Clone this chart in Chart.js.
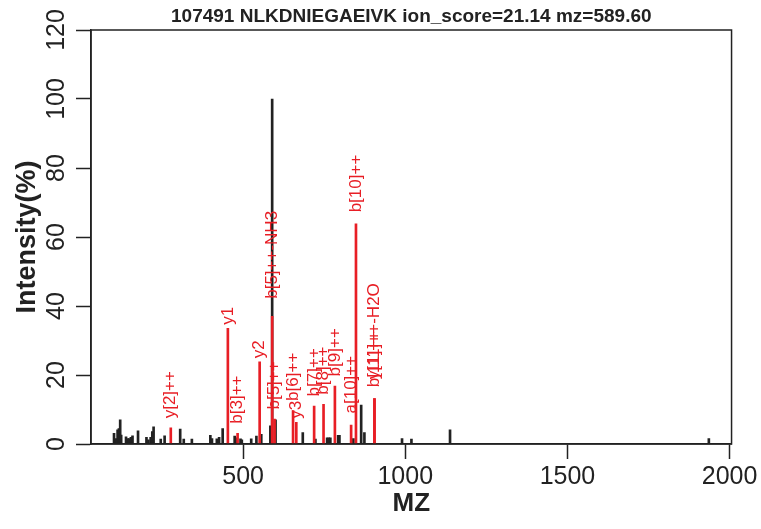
<!DOCTYPE html>
<html>
<head>
<meta charset="utf-8">
<script src="https://cdn.jsdelivr.net/npm/chart.js@4.4.1/dist/chart.umd.min.js"></script>
<style>
  html, body { margin: 0; padding: 0; background: #fff; }
  canvas { display: block; }
</style>
</head>
<body>
<canvas id="chart" width="761" height="529"></canvas>
<script>
"use strict";
// spectrum peaks (m/z, relative intensity %)
const peakMz = [102, 109, 113, 117, 121, 124, 139, 144, 149, 154, 159, 176, 202, 208, 215, 220, 224,
    246, 258, 306, 317, 342, 399, 404, 419, 426, 437, 474, 478, 492, 496, 525, 541, 556, 584,
    589.6, 600, 684, 723, 759, 764, 769, 793, 797, 840, 864, 874, 990, 1019, 1138, 1936];
const peakIntensity = [3.1, 1.6, 4.1, 4.5, 7.0, 2.6, 2.1, 1.6, 1.6, 1.9, 2.4, 3.8, 1.9, 1.2, 1.9, 3.6, 5.0,
    1.4, 2.4, 4.3, 1.4, 1.4, 2.5, 1.6, 1.5, 1.9, 4.5, 2.3, 1.8, 1.5, 1.2, 1.5, 2.3, 2.8, 5.3,
    100, 7.0, 3.3, 1.4, 1.8, 1.8, 1.8, 2.5, 2.5, 1.6, 11.3, 3.3, 1.6, 1.4, 4.1, 1.6];

// matched fragment ions
const ionMz = [277, 453, 483, 551, 589.6, 597, 654, 664, 719, 748, 783, 833, 848, 905, 905];
const ionIntensity = [4.7, 33.5, 3.1, 23.8, 37.0, 7.2, 9.7, 6.3, 11.0, 11.5, 16.8, 5.5, 63.8, 13.2, 13.2];
const ionLabels = ['y[2]++', 'y1', 'b[3]++', 'y2', 'b[5]++-NH3', 'b[5]++', 'b[6]++', 'y3',
    'b[7]++', 'b[8]++', 'b[9]++', 'a[10]++', 'b[10]++', 'b[11]++', 'y[11]++-H2O'];

const xTicks = [500, 1000, 1500, 2000];
const yTicks = [0, 20, 40, 60, 80, 100, 120];

const titleText = '107491 NLKDNIEGAEIVK ion_score=21.14 mz=589.60';
const ink = '#222';
const ionColor = 'rgb(232, 30, 37)';
const fontFamily = '"Liberation Sans", Arial, Helvetica, sans-serif';

Chart.defaults.font.family = fontFamily;
Chart.defaults.color = ink;

// full frame round the plot, like box() in R
const plotBox = {
    id: 'plotBox',
    afterDraw(chart) {
        let ctx = chart.ctx;
        let a = chart.chartArea;
        ctx.save();
        ctx.strokeStyle = ink;
        ctx.lineWidth = 1.5;
        ctx.strokeRect(a.left, a.top, a.right - a.left, a.bottom - a.top);
        ctx.restore();
    }
};

// y tick labels are written upright (rotated), as R does by default
const yTickLabels = {
    id: 'yTickLabels',
    afterDraw(chart) {
        let ctx = chart.ctx;
        let scale = chart.scales.y;
        ctx.save();
        ctx.font = '25px ' + fontFamily;
        ctx.fillStyle = ink;
        ctx.textAlign = 'center';
        ctx.textBaseline = 'middle';
        scale.ticks.forEach(t => {
            ctx.save();
            ctx.translate(57, scale.getPixelForValue(t.value));
            ctx.rotate(-Math.PI / 2);
            ctx.fillText(String(t.value), 0, 0);
            ctx.restore();
        });
        ctx.restore();
    }
};

// ion annotations above each matched peak
const ionTags = {
    id: 'ionTags',
    afterDatasetsDraw(chart) {
        let ctx = chart.ctx;
        let x = chart.scales.x;
        let y = chart.scales.y;
        ctx.save();
        ctx.font = '17px ' + fontFamily;
        ctx.fillStyle = ionColor;
        ctx.textAlign = 'left';
        ctx.textBaseline = 'middle';
        ionLabels.forEach((label, i) => {
            let w = ctx.measureText(label).width;
            ctx.save();
            ctx.translate(x.getPixelForValue(ionMz[i]), y.getPixelForValue(ionIntensity[i]) - 0.2 * w);
            ctx.rotate(-Math.PI / 2);
            ctx.fillText(label, 0, 0);
            ctx.restore();
        });
        ctx.restore();
    }
};

let canvas = document.getElementById('chart');
let ctx = canvas.getContext('2d');
new Chart(ctx, {
    type: 'bar',
    data: {
        datasets: [
            {
                label: 'Matched ions',
                data: ionMz.map((m, i) => ({ x: m, y: ionIntensity[i] })),
                backgroundColor: ionColor,
                barThickness: 2,
                grouped: false
            },
            {
                label: 'Peaks',
                data: peakMz.map((m, i) => ({ x: m, y: peakIntensity[i] })),
                backgroundColor: ink,
                barThickness: 2,
                grouped: false
            }
        ]
    },
    options: {
        responsive: false,
        animation: false,
        layout: { padding: { right: 28 } },
        plugins: {
            legend: { display: false },
            tooltip: { enabled: false },
            title: {
                display: true,
                text: titleText,
                fullSize: false,
                color: ink,
                font: { size: 19, weight: 'bold' },
                padding: { top: 5, bottom: 2.2 }
            }
        },
        scales: {
            x: {
                type: 'linear',
                min: 31,
                max: 2006,
                offset: false,
                grid: {
                    offset: false,
                    drawOnChartArea: false,
                    tickLength: 15,
                    tickWidth: 1.5,
                    tickColor: ink
                },
                border: { color: ink, width: 1.5 },
                ticks: {
                    font: { size: 25 },
                    color: ink,
                    padding: 3.5,
                    maxRotation: 0,
                    autoSkip: false,
                    callback: v => String(v)
                },
                afterBuildTicks: s => { s.ticks = xTicks.map(v => ({ value: v })); },
                afterFit: s => { s.height = 85; },
                title: {
                    display: true,
                    text: 'MZ',
                    color: ink,
                    font: { size: 26, weight: 'bold' },
                    padding: { top: 0, bottom: 10 }
                }
            },
            y: {
                min: 0,
                max: 120,
                grid: {
                    drawOnChartArea: false,
                    tickLength: 15,
                    tickWidth: 1.5,
                    tickColor: ink
                },
                border: { color: ink, width: 1.5 },
                ticks: { display: false },
                afterBuildTicks: s => { s.ticks = yTicks.map(v => ({ value: v })); },
                afterFit: s => { s.width = 91; },
                title: {
                    display: true,
                    text: 'Intensity(%)',
                    color: ink,
                    font: { size: 27, weight: 'bold' },
                    padding: { top: 11, bottom: 0 }
                }
            }
        }
    },
    plugins: [plotBox, yTickLabels, ionTags]
});
</script>
</body>
</html>
